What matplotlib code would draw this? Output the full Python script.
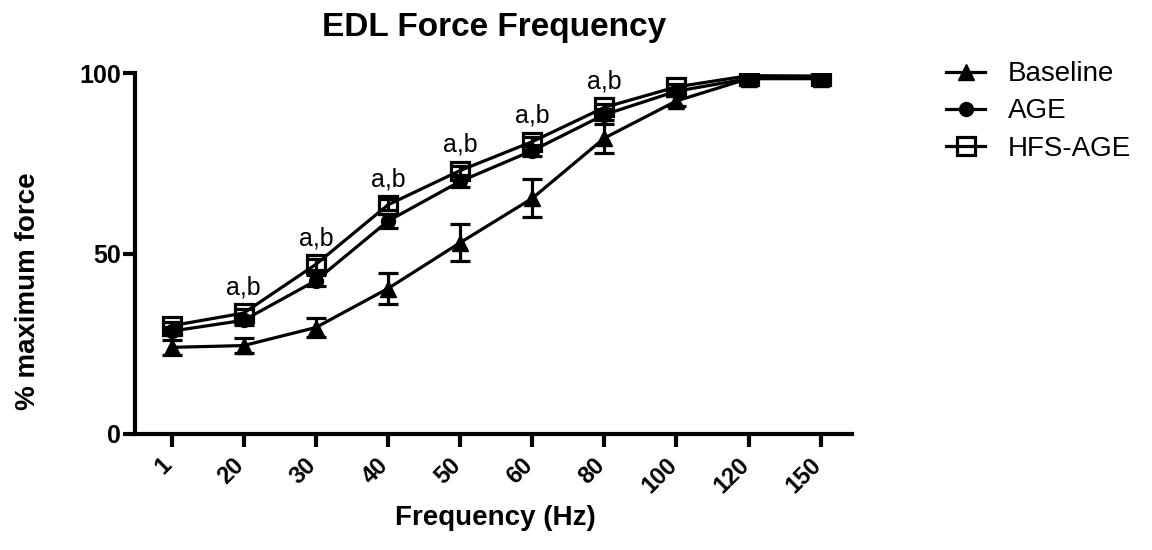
import matplotlib.pyplot as plt
from matplotlib.lines import Line2D
import matplotlib.transforms as mtransforms
import numpy as np

plt.rcParams['font.family'] = ['Liberation Sans', 'DejaVu Sans']

# Data (mean % of maximum force, SEM)
freqs = ["1", "20", "30", "40", "50", "60", "80", "100", "120", "150"]
baseline = [24.0, 24.5, 29.5, 40.3, 53.0, 65.3, 82.0, 92.3, 98.5, 98.5]
baseline_err = [2.0, 2.0, 2.5, 4.3, 5.2, 5.3, 4.0, 1.5, 1.0, 1.0]
age = [28.5, 31.5, 42.5, 59.0, 70.0, 78.5, 88.5, 95.0, 98.5, 98.5]
age_err = [1.2, 1.2, 1.5, 2.0, 1.5, 1.5, 1.5, 1.0, 0.8, 0.8]
hfs_age = [30.0, 33.5, 47.0, 63.5, 73.0, 81.0, 90.5, 96.2, 99.3, 99.2]
hfs_age_err = [1.0, 1.0, 1.5, 1.5, 1.2, 1.2, 1.0, 0.8, 0.5, 0.5]
sig_label = "a,b"
sig_idx = [1, 2, 3, 4, 5, 6]

x = np.arange(len(freqs))

fig = plt.figure(figsize=(11.52, 5.5), dpi=100)
ax = fig.add_axes([0.117, 0.211, 0.623, 0.656])

lw = 2.3
common = dict(color='black', linewidth=lw, elinewidth=lw, capsize=7.5, capthick=lw)
tri = dict(marker='^', markersize=12)
circ = dict(marker='o', markersize=10)
sq = dict(marker='s', markersize=13, markerfacecolor='none', markeredgewidth=2.3)

ax.errorbar(x, baseline, yerr=baseline_err, **tri, **common)
ax.errorbar(x, age, yerr=age_err, **circ, **common)
ax.errorbar(x, hfs_age, yerr=hfs_age_err, **sq, **common)

for i in sig_idx:
    ax.text(x[i], hfs_age[i] + 3.8, sig_label, ha='center', va='bottom', fontsize=18)

ax.set_xlim(-0.51, 9.44)
ax.set_ylim(0, 100)
ax.set_yticks([0, 50, 100])
ax.set_xticks(x)
ax.set_xticklabels(freqs, rotation=45, ha='right', va='top', fontweight='bold', fontsize=17)
for lab in ax.get_yticklabels():
    lab.set_fontweight('bold')
    lab.set_fontsize(18)
ax.tick_params(axis='both', width=3, length=9)
ax.tick_params(axis='x', pad=5)
ax.tick_params(axis='y', pad=1)
# nudge the rotated labels slightly right so their ends sit under the ticks
shift = mtransforms.ScaledTranslation(0.05, 0, fig.dpi_scale_trans)
for lab in ax.get_xticklabels():
    lab.set_transform(lab.get_transform() + shift)

ax.spines['top'].set_visible(False)
ax.spines['right'].set_visible(False)
ax.spines['left'].set_linewidth(3)
ax.spines['bottom'].set_linewidth(3)

ax.set_xlabel('Frequency (Hz)', fontsize=20, fontweight='bold')
ax.set_ylabel('% maximum force', fontsize=20, fontweight='bold')
ax.xaxis.set_label_coords(0.502, -0.197)
ax.yaxis.set_label_coords(-0.13, 0.396)
ax.set_title('EDL Force Frequency', fontsize=24, fontweight='bold', pad=27)

handles = [
    Line2D([], [], color='black', linewidth=lw, **tri),
    Line2D([], [], color='black', linewidth=lw, **circ),
    Line2D([], [], color='black', linewidth=lw, **sq),
]
ax.legend(handles, ['Baseline', 'AGE', 'HFS-AGE'], loc='upper left',
          bbox_to_anchor=(1.096, 1.102), frameon=False, fontsize=20,
          handlelength=1.4, handletextpad=0.8, labelspacing=0.4)

fig.savefig('out.png', dpi=100)
